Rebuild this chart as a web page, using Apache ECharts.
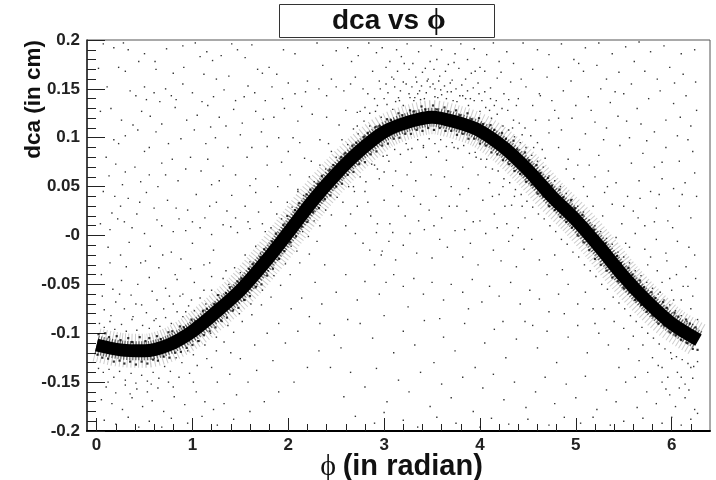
<!DOCTYPE html>
<html><head><meta charset="utf-8">
<style>html,body{margin:0;padding:0;background:#fff}#c{width:716px;height:480px}</style>
<script src="https://cdn.jsdelivr.net/npm/echarts@6/dist/echarts.min.js"></script>
</head><body><div id="c"></div>
<script>
const xMajorTicks=[0,1,2,3,4,5,6];
const xMinorTicks=[0.2,0.4,0.6,0.8,1.2,1.4,1.6,1.8,2.2,2.4,2.6,2.8,3.2,3.4,3.6,3.8,4.2,4.4,4.6,4.8,5.2,5.4,5.6,5.8,6.2];
const bandCentre=[[0,-0.112],[0.25,-0.117],[0.5,-0.118],[0.75,-0.112],[1,-0.098],[1.25,-0.078],[1.5,-0.056],[1.75,-0.028],[2,0.003],[2.25,0.035],[2.5,0.063],[2.75,0.087],[3,0.106],[3.25,0.116],[3.5,0.121],[3.75,0.116],[4,0.107],[4.25,0.09],[4.5,0.067],[4.75,0.04],[5,0.016],[5.25,-0.012],[5.5,-0.042],[5.75,-0.068],[6,-0.09],[6.28,-0.107]];
const edgeUpper=[[0.02,-0.101],[0.09,-0.1],[0.13,-0.104],[0.21,-0.103],[0.25,-0.107],[0.33,-0.105],[0.37,-0.109],[0.45,-0.104],[0.51,-0.108],[0.55,-0.105],[0.63,-0.103],[0.67,-0.106],[0.75,-0.099],[0.79,-0.098],[0.87,-0.093],[0.91,-0.094],[0.99,-0.086],[1.03,-0.088],[1.11,-0.077],[1.15,-0.075],[1.23,-0.07],[1.27,-0.061],[1.35,-0.059],[1.39,-0.053],[1.47,-0.047],[1.51,-0.044],[1.59,-0.034],[1.63,-0.029],[1.71,-0.022],[1.75,-0.014],[1.83,-0.006],[1.87,0.002],[1.95,0.011],[1.99,0.02],[2.07,0.026],[2.11,0.033],[2.19,0.042],[2.23,0.047],[2.31,0.053],[2.35,0.061],[2.43,0.067],[2.47,0.072],[2.55,0.08],[2.59,0.084],[2.67,0.092],[2.71,0.095],[2.79,0.101],[2.83,0.105],[2.91,0.111],[2.95,0.112],[3.03,0.119],[3.07,0.118],[3.15,0.125],[3.19,0.123],[3.27,0.128],[3.31,0.127],[3.39,0.132],[3.43,0.129],[3.51,0.133],[3.55,0.129],[3.63,0.131],[3.67,0.127],[3.75,0.128],[3.79,0.123],[3.87,0.125],[3.91,0.119],[3.99,0.12],[4.03,0.114],[4.11,0.113],[4.15,0.108],[4.23,0.105],[4.27,0.099],[4.35,0.097],[4.39,0.088],[4.47,0.085],[4.51,0.077],[4.59,0.072],[4.63,0.064],[4.71,0.059],[4.75,0.051],[4.83,0.047],[4.87,0.039],[4.95,0.036],[4.99,0.028],[5.07,0.021],[5.11,0.012],[5.19,0.006],[5.23,-0.001],[5.31,-0.008],[5.35,-0.015],[5.43,-0.021],[5.47,-0.028],[5.55,-0.033],[5.59,-0.04],[5.67,-0.046],[5.71,-0.053],[5.79,-0.058],[5.83,-0.064],[5.91,-0.068],[5.95,-0.074],[6.03,-0.079],[6.07,-0.083],[6.15,-0.086],[6.19,-0.09],[6.25,-0.094]];
const edgeLower=[[0.01,-0.122],[0.06,-0.125],[0.12,-0.126],[0.18,-0.129],[0.24,-0.128],[0.29,-0.131],[0.35,-0.129],[0.41,-0.132],[0.47,-0.129],[0.53,-0.131],[0.59,-0.127],[0.64,-0.128],[0.7,-0.124],[0.76,-0.125],[0.82,-0.12],[0.88,-0.119],[0.94,-0.115],[1,-0.112],[1.06,-0.108],[1.12,-0.102],[1.18,-0.098],[1.24,-0.094],[1.3,-0.087],[1.36,-0.084],[1.42,-0.077],[1.48,-0.074],[1.54,-0.066],[1.6,-0.062],[1.66,-0.053],[1.72,-0.05],[1.78,-0.041],[1.84,-0.034],[1.9,-0.024],[1.96,-0.016],[2.02,-0.007],[2.08,-0.001],[2.14,0.009],[2.2,0.014],[2.26,0.024],[2.32,0.028],[2.38,0.037],[2.44,0.041],[2.5,0.05],[2.56,0.053],[2.62,0.062],[2.68,0.065],[2.74,0.073],[2.8,0.075],[2.86,0.083],[2.92,0.086],[2.98,0.092],[3.04,0.094],[3.1,0.099],[3.16,0.1],[3.22,0.104],[3.28,0.104],[3.34,0.108],[3.4,0.107],[3.46,0.11],[3.52,0.108],[3.58,0.11],[3.64,0.107],[3.7,0.107],[3.76,0.103],[3.82,0.104],[3.88,0.099],[3.94,0.099],[4,0.094],[4.06,0.092],[4.12,0.085],[4.18,0.083],[4.24,0.077],[4.3,0.073],[4.36,0.066],[4.42,0.063],[4.48,0.055],[4.54,0.052],[4.6,0.043],[4.66,0.04],[4.72,0.03],[4.78,0.026],[4.84,0.019],[4.9,0.014],[4.96,0.008],[5.02,0],[5.08,-0.007],[5.14,-0.015],[5.2,-0.024],[5.26,-0.03],[5.32,-0.036],[5.38,-0.043],[5.44,-0.047],[5.5,-0.054],[5.56,-0.058],[5.62,-0.066],[5.68,-0.071],[5.74,-0.078],[5.8,-0.082],[5.86,-0.09],[5.92,-0.092],[5.98,-0.099],[6.04,-0.102],[6.1,-0.107],[6.16,-0.11],[6.22,-0.116],[6.27,-0.117]];
const haloAbove=[[0.03,-0.09],[0.08,-0.094],[0.14,-0.088],[0.19,-0.096],[0.26,-0.091],[0.31,-0.098],[0.37,-0.086],[0.42,-0.097],[0.48,-0.092],[0.55,-0.095],[0.6,-0.087],[0.66,-0.093],[0.72,-0.084],[0.78,-0.09],[0.84,-0.078],[0.9,-0.083],[0.96,-0.072],[1.02,-0.077],[1.08,-0.064],[1.14,-0.07],[1.2,-0.056],[1.26,-0.061],[1.32,-0.044],[1.38,-0.05],[1.44,-0.033],[1.5,-0.038],[1.55,-0.02],[1.6,-0.027],[1.66,-0.011],[1.71,-0.018],[1.76,0.004],[1.82,0.008],[1.88,0.022],[1.93,0.017],[1.99,0.034],[2.04,0.029],[2.1,0.047],[2.16,0.041],[2.22,0.06],[2.27,0.055],[2.33,0.072],[2.39,0.068],[2.45,0.086],[2.5,0.08],[2.56,0.098],[2.62,0.093],[2.68,0.109],[2.73,0.104],[2.79,0.117],[2.85,0.112],[2.91,0.127],[2.97,0.121],[3.03,0.134],[3.09,0.129],[3.15,0.141],[3.2,0.133],[3.26,0.145],[3.31,0.138],[3.37,0.148],[3.42,0.14],[3.48,0.152],[3.53,0.142],[3.59,0.149],[3.65,0.14],[3.7,0.147],[3.76,0.137],[3.82,0.143],[3.88,0.133],[3.94,0.138],[4,0.127],[4.06,0.131],[4.12,0.12],[4.18,0.124],[4.24,0.112],[4.3,0.108],[4.36,0.101],[4.42,0.095],[4.48,0.09],[4.54,0.082],[4.6,0.076],[4.66,0.07],[4.72,0.061],[4.78,0.056],[4.84,0.05],[4.9,0.043],[4.96,0.037],[5.02,0.03],[5.08,0.024],[5.14,0.016],[5.2,0.01],[5.26,0.004],[5.32,-0.003],[5.38,-0.009],[5.44,-0.017],[5.5,-0.022],[5.56,-0.028],[5.62,-0.036],[5.68,-0.041],[5.74,-0.048],[5.8,-0.054],[5.86,-0.06],[5.92,-0.066],[5.98,-0.071],[6.04,-0.077],[6.1,-0.082],[6.16,-0.088],[6.22,-0.091],[6.27,-0.086]];
const haloBelow=[[0.02,-0.136],[0.07,-0.14],[0.13,-0.137],[0.18,-0.145],[0.24,-0.139],[0.3,-0.148],[0.36,-0.141],[0.41,-0.151],[0.47,-0.143],[0.53,-0.149],[0.59,-0.14],[0.65,-0.146],[0.71,-0.134],[0.77,-0.139],[0.83,-0.125],[0.89,-0.13],[0.95,-0.118],[1.01,-0.122],[1.07,-0.108],[1.13,-0.112],[1.19,-0.1],[1.25,-0.104],[1.31,-0.088],[1.37,-0.092],[1.43,-0.076],[1.49,-0.08],[1.55,-0.066],[1.61,-0.07],[1.67,-0.052],[1.73,-0.056],[1.79,-0.036],[1.85,-0.041],[1.91,-0.024],[1.97,-0.029],[2.03,-0.011],[2.09,-0.016],[2.15,0.004],[2.21,-0.001],[2.27,0.015],[2.33,0.01],[2.39,0.026],[2.45,0.021],[2.51,0.039],[2.57,0.034],[2.63,0.05],[2.69,0.045],[2.75,0.06],[2.81,0.055],[2.87,0.073],[2.93,0.068],[2.99,0.081],[3.05,0.076],[3.11,0.088],[3.17,0.083],[3.23,0.094],[3.29,0.089],[3.35,0.098],[3.41,0.092],[3.47,0.099],[3.53,0.094],[3.59,0.098],[3.65,0.091],[3.71,0.095],[3.77,0.089],[3.83,0.092],[3.89,0.084],[3.95,0.085],[4.01,0.078],[4.07,0.078],[4.13,0.068],[4.19,0.066],[4.25,0.058],[4.31,0.054],[4.37,0.047],[4.43,0.042],[4.49,0.035],[4.55,0.029],[4.61,0.022],[4.67,0.017],[4.73,0.01],[4.79,0.004],[4.85,-0.004],[4.91,-0.009],[4.97,-0.017],[5.03,-0.022],[5.09,-0.03],[5.15,-0.036],[5.21,-0.042],[5.27,-0.05],[5.33,-0.055],[5.39,-0.063],[5.45,-0.069],[5.51,-0.075],[5.57,-0.082],[5.63,-0.088],[5.69,-0.094],[5.75,-0.1],[5.81,-0.105],[5.87,-0.111],[5.93,-0.116],[5.99,-0.12],[6.05,-0.124],[6.11,-0.127],[6.17,-0.131],[6.23,-0.134],[6.27,-0.129]];
const upperLeftDots=[[0.07,0.196],[0.28,0.197],[0.5,0.186],[0.61,0.178],[0.44,0.178],[0.18,0.192],[0.33,0.19],[0.73,0.191],[0.9,0.194],[1.03,0.197],[1.08,0.183],[1.15,0.188],[1.21,0.179],[1.3,0.184],[1.41,0.196],[1.47,0.19],[1.55,0.182],[1.62,0.195],[1.8,0.172],[1.95,0.19],[2.07,0.186],[2.3,0.197],[2.5,0.189],[2.62,0.192],[2.66,0.178],[2.73,0.184],[0.3,0.168],[0.02,0.171],[0.62,0.17],[0.8,0.166],[1.12,0.165],[1.25,0.16],[1.38,0.163],[1.68,0.17],[1.73,0.166],[2.0,0.156],[2.2,0.158],[2.45,0.16],[2.65,0.155],[2.7,0.162],[0.35,0.148],[0.41,0.143],[0.5,0.152],[0.52,0.139],[0.6,0.146],[0.72,0.15],[0.78,0.143],[0.83,0.139],[0.9,0.155],[1.0,0.146],[1.1,0.137],[1.22,0.142],[1.33,0.149],[1.45,0.138],[1.58,0.153],[1.65,0.146],[1.76,0.138],[1.83,0.152],[1.94,0.14],[2.07,0.145],[2.18,0.147],[2.32,0.15],[2.4,0.143],[2.5,0.152],[2.58,0.148],[2.78,0.15],[0.04,0.127],[0.15,0.13],[0.26,0.118],[0.38,0.113],[0.43,0.108],[0.56,0.122],[0.68,0.114],[0.82,0.131],[0.94,0.118],[1.05,0.123],[1.16,0.133],[1.28,0.121],[1.43,0.129],[1.52,0.115],[1.66,0.127],[1.74,0.119],[1.85,0.121],[1.96,0.13],[2.1,0.117],[2.25,0.124],[2.4,0.121],[2.53,0.113],[2.6,0.128],[2.72,0.126],[0.18,0.098],[0.23,0.094],[0.3,0.102],[0.5,0.086],[0.55,0.09],[0.62,0.106],[0.75,0.094],[0.88,0.099],[1.02,0.108],[1.14,0.094],[1.24,0.1],[1.35,0.112],[1.5,0.103],[1.62,0.09],[1.72,0.106],[1.78,0.091],[1.9,0.1],[2.0,0.086],[2.12,0.095],[2.17,0.079],[2.24,0.076],[2.33,0.098],[2.42,0.094],[0.1,0.08],[0.2,0.073],[0.3,0.065],[0.4,0.07],[0.55,0.062],[0.68,0.074],[0.72,0.062],[0.85,0.056],[0.98,0.08],[1.09,0.066],[1.2,0.052],[1.32,0.071],[1.45,0.062],[1.57,0.08],[1.66,0.058],[1.78,0.072],[1.89,0.05],[2.02,0.062],[2.1,0.045],[0.07,0.045],[0.19,0.04],[0.25,0.03],[0.33,0.038],[0.42,0.022],[0.52,0.044],[0.6,0.028],[0.74,0.036],[0.86,0.017],[0.95,0.026],[1.04,0.042],[1.13,0.018],[1.25,0.034],[1.36,0.025],[1.45,0.018],[1.55,0.03],[1.66,0.044],[1.73,0.012],[1.82,0.034],[0.04,0.012],[0.14,0.006],[0.22,0.017],[0.37,0.008],[0.5,0.002],[0.68,0.01],[0.8,0.004],[0.93,0.005],[1.08,0.008],[1.2,0.001],[1.32,0.011],[1.47,0.003],[1.6,0.007],[0.11,0.152],[0.23,0.172],[0.47,0.127],[0.66,0.137],[0.91,0.172],[1.19,0.111],[1.37,0.09],[1.54,0.142],[1.88,0.165],[2.14,0.132],[2.36,0.174],[0.13,0.061],[0.27,0.052],[0.46,0.055],[0.64,0.05],[0.79,0.078],[0.93,0.068],[1.16,0.078],[1.28,0.056],[1.41,0.041],[1.6,0.051],[1.93,0.075],[2.05,0.1],[0.16,0.023],[0.29,0.014],[0.45,0.034],[0.63,0.016],[0.83,0.028],[1.0,0.014],[1.18,0.03],[1.4,0.009],[1.58,0.014],[1.69,0.024]];
const lowerLeftDots=[[0.12,-0.012],[0.25,-0.02],[0.34,-0.007],[0.46,-0.028],[0.56,-0.011],[0.65,-0.033],[0.78,-0.017],[0.88,-0.024],[1.0,-0.008],[1.12,-0.03],[1.22,-0.015],[1.35,-0.036],[0.05,-0.04],[0.17,-0.055],[0.26,-0.046],[0.36,-0.061],[0.43,-0.05],[0.55,-0.043],[0.63,-0.066],[0.72,-0.054],[0.82,-0.04],[0.9,-0.06],[1.02,-0.048],[1.12,-0.056],[1.2,-0.042],[0.08,-0.076],[0.15,-0.082],[0.2,-0.068],[0.29,-0.075],[0.38,-0.083],[0.47,-0.071],[0.52,-0.079],[0.62,-0.085],[0.7,-0.075],[0.8,-0.07],[0.87,-0.062],[0.93,-0.078],[0.1,-0.155],[0.2,-0.161],[0.3,-0.153],[0.42,-0.157],[0.53,-0.16],[0.64,-0.156],[0.75,-0.15],[0.86,-0.145],[0.97,-0.141],[1.05,-0.133],[1.15,-0.126],[1.25,-0.118],[1.33,-0.109],[1.43,-0.099],[1.52,-0.088],[1.62,-0.081],[1.72,-0.071],[1.82,-0.063],[1.92,-0.051],[2.02,-0.04],[2.12,-0.028],[2.22,-0.019],[2.3,-0.006],[0.05,-0.168],[0.16,-0.172],[0.27,-0.178],[0.37,-0.166],[0.48,-0.175],[0.58,-0.169],[0.7,-0.18],[0.81,-0.165],[0.92,-0.173],[1.04,-0.16],[1.13,-0.17],[1.26,-0.15],[1.39,-0.142],[1.5,-0.126],[1.65,-0.112],[1.78,-0.1],[1.9,-0.09],[2.03,-0.075],[2.14,-0.064],[2.28,-0.048],[2.38,-0.03],[0.08,-0.189],[0.2,-0.193],[0.33,-0.186],[0.44,-0.196],[0.55,-0.19],[0.68,-0.196],[0.78,-0.187],[0.95,-0.192],[1.1,-0.185],[1.22,-0.178],[1.33,-0.172],[1.46,-0.163],[1.58,-0.15],[1.67,-0.138],[1.84,-0.128],[1.97,-0.11],[2.1,-0.098],[2.22,-0.083],[2.35,-0.07],[2.5,-0.058],[2.6,-0.04],[1.26,-0.194],[1.43,-0.188],[1.6,-0.18],[1.75,-0.17],[1.9,-0.16],[2.06,-0.15],[2.2,-0.135],[2.32,-0.118],[2.48,-0.102],[2.62,-0.086],[2.72,-0.066],[2.8,-0.047],[2.9,-0.03],[2.98,-0.016],[3.02,-0.048],[0.14,-0.028],[0.31,-0.032],[0.51,-0.026],[0.69,-0.02],[0.84,-0.045],[0.98,-0.034],[1.18,-0.028],[0.06,-0.062],[0.24,-0.06],[0.41,-0.07],[0.58,-0.057],[0.76,-0.062],[0.99,-0.066],[0.12,-0.15],[0.35,-0.162],[0.57,-0.152],[0.8,-0.155],[1.01,-0.15],[1.2,-0.135],[1.4,-0.12]];
const crownDots=[[2.84,0.197],[2.92,0.187],[2.98,0.192],[3.06,0.178],[3.13,0.19],[3.18,0.183],[3.24,0.196],[3.3,0.176],[3.36,0.188],[3.43,0.171],[3.49,0.194],[3.55,0.18],[3.6,0.19],[3.67,0.175],[3.74,0.186],[3.8,0.196],[3.87,0.18],[3.94,0.191],[4.0,0.172],[4.07,0.185],[4.14,0.197],[4.2,0.178],[4.28,0.188],[4.35,0.176],[2.88,0.168],[2.95,0.158],[3.02,0.172],[3.08,0.162],[3.14,0.168],[3.2,0.157],[3.26,0.17],[3.33,0.162],[3.4,0.167],[3.46,0.16],[3.52,0.17],[3.58,0.163],[3.64,0.168],[3.71,0.159],[3.78,0.171],[3.85,0.16],[3.91,0.166],[3.98,0.156],[4.05,0.168],[4.11,0.151],[4.18,0.161],[4.25,0.145],[4.32,0.157],[4.4,0.14],[4.48,0.152],[4.55,0.133],[2.83,0.145],[2.9,0.14],[2.96,0.15],[3.04,0.146],[3.11,0.152],[3.17,0.148],[3.23,0.155],[3.29,0.152],[3.34,0.157],[3.39,0.153],[3.45,0.158],[3.51,0.155],[3.57,0.158],[3.63,0.153],[3.69,0.156],[3.75,0.15],[3.81,0.154],[3.87,0.148],[3.93,0.151],[3.99,0.145],[4.05,0.147],[4.11,0.14],[4.17,0.138],[4.23,0.13],[4.29,0.128],[4.35,0.118],[4.41,0.115],[4.47,0.11],[4.53,0.102],[4.6,0.095],[4.65,0.088],[2.75,0.127],[2.8,0.131],[2.85,0.125],[3.1,0.16],[3.35,0.145],[3.6,0.144],[3.85,0.14],[4.1,0.128],[4.34,0.11],[4.44,0.103],[4.56,0.09],[4.68,0.079],[3.02,0.155],[3.21,0.176],[3.27,0.141],[3.44,0.146],[3.48,0.178],[3.53,0.15],[3.66,0.147],[3.73,0.177],[3.79,0.143],[3.95,0.168],[4.02,0.138],[4.22,0.167],[4.38,0.133],[4.43,0.16],[4.58,0.118],[4.63,0.143],[3.16,0.138],[3.38,0.139],[3.56,0.141],[3.72,0.138],[3.9,0.14],[4.15,0.133],[4.3,0.139],[2.72,0.112],[2.93,0.133],[3.0,0.14],[3.12,0.137],[3.32,0.141]];
const underArchDots=[[2.72,0.03],[2.8,0.045],[2.86,0.02],[2.95,0.058],[3.0,0.036],[3.06,0.012],[3.12,0.066],[3.18,0.045],[3.22,0.02],[3.28,0.075],[3.33,0.056],[3.38,0.032],[3.44,0.08],[3.49,0.062],[3.54,0.04],[3.6,0.018],[3.65,0.077],[3.7,0.05],[3.76,0.03],[3.82,0.07],[3.88,0.048],[3.93,0.014],[3.98,0.062],[4.03,0.036],[4.1,0.054],[4.15,0.022],[4.2,0.042],[4.28,0.012],[4.33,0.031],[4.4,0.008],[4.47,0.018],[2.6,0.01],[2.65,0.022],[2.7,0.002],[2.78,-0.008],[2.85,-0.015],[2.92,0.003],[2.97,-0.02],[3.05,-0.006],[3.12,-0.025],[3.2,-0.01],[3.27,0.002],[3.34,-0.018],[3.42,0.006],[3.5,-0.023],[3.58,-0.004],[3.66,-0.012],[3.74,0.005],[3.82,-0.022],[3.9,-0.008],[3.98,-0.03],[4.06,0.002],[4.14,-0.015],[4.22,-0.026],[4.3,-0.006],[4.38,-0.032],[4.46,-0.014],[4.54,-0.004],[4.62,-0.025],[4.7,-0.04],[4.78,-0.02],[4.86,-0.035],[3.1,-0.04],[3.2,-0.052],[3.31,-0.044],[3.41,-0.06],[3.5,-0.048],[3.62,-0.066],[3.7,-0.05],[3.82,-0.058],[3.92,-0.045],[4.02,-0.068],[4.1,-0.052],[4.2,-0.062],[4.32,-0.048],[4.42,-0.07],[4.52,-0.056],[4.62,-0.065],[4.72,-0.078],[4.82,-0.06],[4.92,-0.05],[5.02,-0.07],[5.1,-0.058],[5.18,-0.075],[2.9,0.072],[3.03,0.082],[3.09,0.051],[3.15,0.03],[3.25,0.088],[3.31,0.04],[3.41,0.09],[3.47,0.026],[3.57,0.086],[3.63,0.06],[3.73,0.09],[3.79,0.042],[3.86,0.025],[3.96,0.08],[4.06,0.07],[4.13,0.04],[4.24,0.05],[4.36,0.04],[4.44,0.03],[2.68,0.05],[2.83,0.034],[2.93,0.012],[3.0,0.065],[3.09,0.003],[3.24,0.062],[3.36,0.015],[3.52,0.01],[3.68,0.03],[3.84,0.006],[4.0,0.015],[4.18,0.008],[4.26,0.03],[4.34,0.0]];
const lowerRightDots=[[2.75,-0.09],[2.88,-0.105],[3.0,-0.082],[3.1,-0.12],[3.2,-0.098],[3.32,-0.112],[3.42,-0.087],[3.52,-0.13],[3.62,-0.104],[3.74,-0.118],[3.84,-0.09],[3.95,-0.135],[4.05,-0.11],[4.15,-0.096],[4.27,-0.125],[4.38,-0.106],[4.47,-0.088],[4.6,-0.115],[4.7,-0.098],[4.8,-0.13],[4.92,-0.104],[5.02,-0.092],[5.12,-0.12],[5.24,-0.1],[5.34,-0.112],[5.45,-0.135],[5.55,-0.116],[5.66,-0.128],[5.75,-0.14],[5.86,-0.133],[5.96,-0.145],[6.06,-0.14],[6.14,-0.152],[6.22,-0.146],[2.65,-0.14],[2.8,-0.155],[2.92,-0.136],[3.03,-0.17],[3.15,-0.148],[3.26,-0.16],[3.38,-0.14],[3.48,-0.175],[3.6,-0.152],[3.7,-0.166],[3.82,-0.145],[3.93,-0.18],[4.03,-0.156],[4.14,-0.142],[4.25,-0.168],[4.36,-0.15],[4.48,-0.176],[4.58,-0.16],[4.68,-0.145],[4.78,-0.172],[4.9,-0.152],[5.0,-0.166],[5.1,-0.144],[5.22,-0.178],[5.32,-0.158],[5.42,-0.17],[5.52,-0.15],[5.64,-0.176],[5.74,-0.16],[5.84,-0.172],[5.94,-0.157],[6.04,-0.175],[6.14,-0.166],[6.24,-0.178],[2.7,-0.185],[2.9,-0.192],[3.0,-0.181],[3.2,-0.189],[3.35,-0.196],[3.55,-0.186],[3.75,-0.192],[4.0,-0.196],[4.12,-0.187],[4.3,-0.193],[4.5,-0.188],[4.72,-0.194],[4.88,-0.186],[5.05,-0.192],[5.18,-0.186],[5.36,-0.194],[5.5,-0.19],[5.7,-0.187],[5.9,-0.192],[6.0,-0.186],[6.1,-0.194],[6.2,-0.188],[6.27,-0.182],[2.33,-0.09],[2.44,-0.135],[2.55,-0.115],[2.58,-0.165],[2.95,-0.06],[3.25,-0.073],[3.58,-0.085],[3.88,-0.075],[4.24,-0.088],[4.55,-0.092],[4.88,-0.08],[5.2,-0.09],[5.4,-0.088],[5.6,-0.103],[5.8,-0.125],[6.0,-0.126],[6.2,-0.135],[5.9,-0.135],[6.1,-0.145],[5.7,-0.112],[5.5,-0.095],[5.3,-0.075],[5.62,-0.145],[5.9,-0.15],[6.18,-0.158],[6.08,-0.156],[5.98,-0.163]];
const upperRightDots=[[4.45,0.197],[4.6,0.19],[4.72,0.185],[4.85,0.196],[4.98,0.18],[5.1,0.192],[5.24,0.197],[5.38,0.186],[5.52,0.193],[5.66,0.198],[5.78,0.188],[5.92,0.194],[6.1,0.186],[6.24,0.19],[4.55,0.17],[4.7,0.162],[4.82,0.172],[4.95,0.158],[5.08,0.168],[5.22,0.174],[5.32,0.16],[5.45,0.167],[5.58,0.155],[5.72,0.168],[5.85,0.16],[5.98,0.172],[6.12,0.165],[6.25,0.157],[4.62,0.145],[4.75,0.138],[4.87,0.148],[5.0,0.133],[5.13,0.142],[5.26,0.15],[5.36,0.136],[5.5,0.145],[5.64,0.13],[5.76,0.14],[5.88,0.148],[6.02,0.135],[6.15,0.143],[6.26,0.128],[4.72,0.118],[4.85,0.108],[4.96,0.12],[5.1,0.104],[5.2,0.116],[5.32,0.11],[5.44,0.122],[5.56,0.1],[5.68,0.114],[5.82,0.106],[5.94,0.118],[6.06,0.102],[6.2,0.112],[4.82,0.09],[4.92,0.078],[5.04,0.088],[5.14,0.072],[5.24,0.082],[5.34,0.066],[5.46,0.092],[5.58,0.074],[5.7,0.084],[5.82,0.07],[5.94,0.09],[6.08,0.076],[6.22,0.086],[4.98,0.058],[5.08,0.05],[5.2,0.06],[5.3,0.044],[5.42,0.054],[5.54,0.04],[5.66,0.056],[5.78,0.045],[5.9,0.058],[6.02,0.048],[6.14,0.054],[6.26,0.04],[5.18,0.03],[5.28,0.02],[5.38,0.032],[5.48,0.012],[5.6,0.025],[5.72,0.01],[5.84,0.028],[5.96,0.015],[6.08,0.03],[6.2,0.018],[5.42,-0.002],[5.52,-0.008],[5.62,0.002],[5.72,-0.014],[5.84,-0.004],[5.94,-0.018],[6.06,-0.006],[6.18,-0.012],[5.75,-0.03],[5.85,-0.036],[5.95,-0.026],[6.05,-0.04],[6.15,-0.032],[6.25,-0.044],[5.9,-0.048],[6.0,-0.056],[6.12,-0.052],[6.22,-0.062],[5.7,-0.056],[6.1,-0.066],[6.2,-0.075],[4.78,0.128],[5.03,0.176],[5.16,0.128],[5.29,0.098],[5.41,0.147],[5.53,0.117],[5.61,0.178],[5.74,0.097],[5.9,0.075],[6.03,0.156],[6.17,0.098],[6.09,0.121],[5.67,0.038],[5.33,0.05],[5.87,0.042],[6.11,0.042],[6.24,0.064],[5.56,-0.012],[5.78,-0.022],[5.98,-0.044],[6.17,-0.052],[6.02,-0.066],[5.88,-0.058],[6.24,-0.02],[6.01,0.008],[5.82,0.014],[5.65,0.018],[5.5,0.03],[5.12,0.04],[4.9,0.068],[5.02,0.072],[4.72,0.105],[4.82,0.12]];
const yLabelFor=v=>Math.abs(v)<1e-9?'-0':String(+v.toFixed(2));
const dotSeries=(name,data,size)=>({name,type:'scatter',data,symbol:'rect',symbolSize:size||1.4,silent:true,itemStyle:{color:'#000'},animation:false,z:3});
const bandLine=(name,width,color,dash)=>({name,type:'line',data:bandCentre,symbol:'none',smooth:0.3,silent:true,z:2,lineStyle:{color,width,cap:'butt',type:dash||'solid'}});
const commonX={type:'value',min:-0.1,max:6.4,splitLine:{show:false}};
const chart=echarts.init(document.getElementById('c'),null,{renderer:'canvas'});
chart.setOption({
 animation:false,backgroundColor:'#fff',
 title:{left:332,top:6,padding:0,text:'{a|dca vs }{b|ϕ}',textStyle:{rich:{
   a:{fontFamily:'Liberation Sans',fontWeight:'bold',fontSize:28,color:'#111'},
   b:{fontFamily:'Liberation Serif',fontSize:30,color:'#111'}}}},
 graphic:[{type:'rect',z:-1,silent:true,shape:{x:279.5,y:4.5,width:215,height:33},style:{fill:'#fff',stroke:'#333',lineWidth:1}}],
 grid:{left:87,right:6,top:40,bottom:49,outerBoundsMode:'none',show:true,borderColor:'#555',borderWidth:1,backgroundColor:'#fff'},
 xAxis:[
  {...commonX,position:'bottom',
   name:'{p|ϕ}  {n|(in radian)}',nameLocation:'middle',nameGap:21,nameMoveOverlap:false,
   nameTextStyle:{padding:[0,0,0,6],rich:{p:{fontFamily:'Liberation Serif',fontSize:30,color:'#111'},n:{fontFamily:'Liberation Sans',fontWeight:'bold',fontSize:29,color:'#111'}}},
   axisLine:{show:true,onZero:false,lineStyle:{color:'#000',width:2}},
   axisTick:{show:true,inside:true,length:13,customValues:xMajorTicks,lineStyle:{color:'#222',width:1}},
   axisLabel:{show:true,margin:6,customValues:xMajorTicks,fontFamily:'Liberation Sans',fontWeight:'bold',fontSize:17,color:'#222',formatter:v=>String(v)}},
  {...commonX,position:'bottom',axisLine:{show:false,onZero:false},
   axisTick:{show:true,inside:true,length:7,customValues:xMinorTicks,lineStyle:{color:'#222',width:1}},
   axisLabel:{show:false}}
 ],
 yAxis:{type:'value',min:-0.2,max:0.2,interval:0.05,
   name:'dca (in cm)',nameLocation:'end',nameRotate:90,nameGap:0,nameMoveOverlap:false,
   nameTextStyle:{fontFamily:'Liberation Sans',fontWeight:'bold',fontSize:22.5,color:'#111',align:'right',verticalAlign:'bottom',padding:[0,0,42,0]},
   splitLine:{show:false},
   axisLine:{show:true,onZero:false,lineStyle:{color:'#222',width:1.5}},
   axisTick:{show:true,inside:true,length:18,lineStyle:{color:'#222',width:1}},
   minorTick:{show:true,splitNumber:5,length:9,lineStyle:{color:'#222',width:1}},
   axisLabel:{margin:7,fontFamily:'Liberation Sans',fontWeight:'bold',fontSize:17,color:'#222',formatter:yLabelFor}},
 series:[
  dotSeries('upperLeft',upperLeftDots),dotSeries('lowerLeft',lowerLeftDots),dotSeries('crown',crownDots),
  dotSeries('underArch',underArchDots),dotSeries('lowerRight',lowerRightDots),dotSeries('upperRight',upperRightDots),
  dotSeries('haloAbove',haloAbove),dotSeries('haloBelow',haloBelow),
  dotSeries('edgeUpper',edgeUpper,2.2),dotSeries('edgeLower',edgeLower,2.2),
  bandLine('grainOuter',34,'rgba(0,0,0,0.2)',[1,2.5]),
  bandLine('grainInner',19,'rgba(0,0,0,0.6)',[1.2,1.6]),
  bandLine('band',13,'#000')
 ]
});
</script></body></html>
